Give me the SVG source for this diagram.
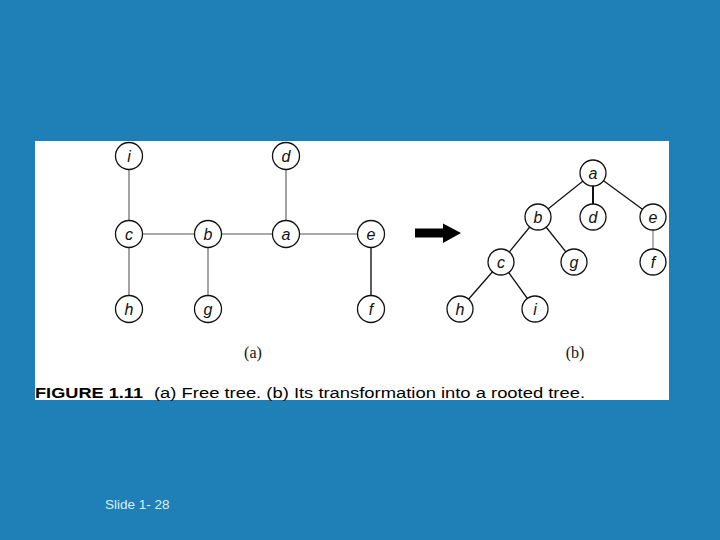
<svg xmlns="http://www.w3.org/2000/svg" width="720" height="540" viewBox="0 0 720 540">
<defs>
<style>
.nd circle{fill:#fff;stroke:#111;stroke-width:1.3}
.nd text{font-family:"Liberation Sans",Arial,sans-serif;font-style:italic;font-size:16px;fill:#111;text-anchor:middle}
.el line{stroke:#8c8c8c;stroke-width:1.6}
.er line{stroke:#111;stroke-width:1.3}
</style>
</defs>
<rect x="0" y="0" width="720" height="540" fill="#1f7fb7"/>
<rect x="35" y="141" width="634" height="259" fill="#fff"/>
<g id="connectors">
<g class="el">
<line x1="129" y1="156" x2="129" y2="309"/>
<line x1="129" y1="234" x2="371" y2="234"/>
<line x1="208" y1="234" x2="208" y2="309"/>
<line x1="286" y1="156" x2="286" y2="234"/>
<line x1="371" y1="234" x2="371" y2="309" style="stroke:#333"/>
</g>
<g class="er">
<line x1="593" y1="173" x2="538" y2="217"/>
<line x1="593" y1="173" x2="593" y2="217" style="stroke-width:2"/>
<line x1="593" y1="173" x2="653" y2="217"/>
<line x1="538" y1="217" x2="501" y2="262"/>
<line x1="538" y1="217" x2="574" y2="262"/>
<line x1="653" y1="217" x2="653" y2="262" style="stroke:#888"/>
<line x1="501" y1="262" x2="460" y2="309"/>
<line x1="501" y1="262" x2="535" y2="309"/>
</g>
<polygon id="arrow" points="415,228.5 443,228.5 443,223.5 461,233 443,243 443,237.5 415,237.5" fill="#000"/>
</g>
<g id="free-i" class="nd"><circle cx="129" cy="156" r="13.5"/><text x="129" y="162">i</text></g>
<g id="free-d" class="nd"><circle cx="286" cy="156" r="13.5"/><text x="286" y="162">d</text></g>
<g id="free-c" class="nd"><circle cx="129" cy="234" r="13.5"/><text x="129" y="240">c</text></g>
<g id="free-b" class="nd"><circle cx="208" cy="234" r="13.5"/><text x="208" y="240">b</text></g>
<g id="free-a" class="nd"><circle cx="286" cy="234" r="13.5"/><text x="286" y="240">a</text></g>
<g id="free-e" class="nd"><circle cx="371" cy="234" r="13.5"/><text x="371" y="240">e</text></g>
<g id="free-h" class="nd"><circle cx="129" cy="309" r="13.5"/><text x="129" y="315">h</text></g>
<g id="free-g" class="nd"><circle cx="208" cy="309" r="13.5"/><text x="208" y="315">g</text></g>
<g id="free-f" class="nd"><circle cx="371" cy="309" r="13.5"/><text x="371" y="315">f</text></g>
<g id="root-a" class="nd"><circle cx="593" cy="173" r="13"/><text x="593" y="179">a</text></g>
<g id="root-b" class="nd"><circle cx="538" cy="217" r="13"/><text x="538" y="223">b</text></g>
<g id="root-d" class="nd"><circle cx="593" cy="217" r="13"/><text x="593" y="223">d</text></g>
<g id="root-e" class="nd"><circle cx="653" cy="217" r="13"/><text x="653" y="223">e</text></g>
<g id="root-c" class="nd"><circle cx="501" cy="262" r="13"/><text x="501" y="268">c</text></g>
<g id="root-g" class="nd"><circle cx="574" cy="262" r="13"/><text x="574" y="268">g</text></g>
<g id="root-f" class="nd"><circle cx="653" cy="262" r="13"/><text x="653" y="268">f</text></g>
<g id="root-h" class="nd"><circle cx="460" cy="309" r="13"/><text x="460" y="315">h</text></g>
<g id="root-i" class="nd"><circle cx="535" cy="309" r="13"/><text x="535" y="315">i</text></g>
<text x="253" y="358" font-family="'Liberation Serif',serif" font-size="16" text-anchor="middle" fill="#111">(a)</text>
<text x="575" y="358" font-family="'Liberation Serif',serif" font-size="16" text-anchor="middle" fill="#111">(b)</text>
<text x="35" y="398" font-family="'Liberation Sans',Arial,sans-serif" font-weight="bold" font-size="14" textLength="108" lengthAdjust="spacingAndGlyphs" fill="#000">FIGURE 1.11</text>
<text x="154" y="398" font-family="'Liberation Sans',Arial,sans-serif" font-size="14" textLength="431" lengthAdjust="spacingAndGlyphs" fill="#000">(a) Free tree. (b) Its transformation into a rooted tree.</text>
<text x="105" y="509" font-family="'Liberation Sans',Arial,sans-serif" font-size="13.5" fill="#dcefff">Slide 1- 28</text>
</svg>
